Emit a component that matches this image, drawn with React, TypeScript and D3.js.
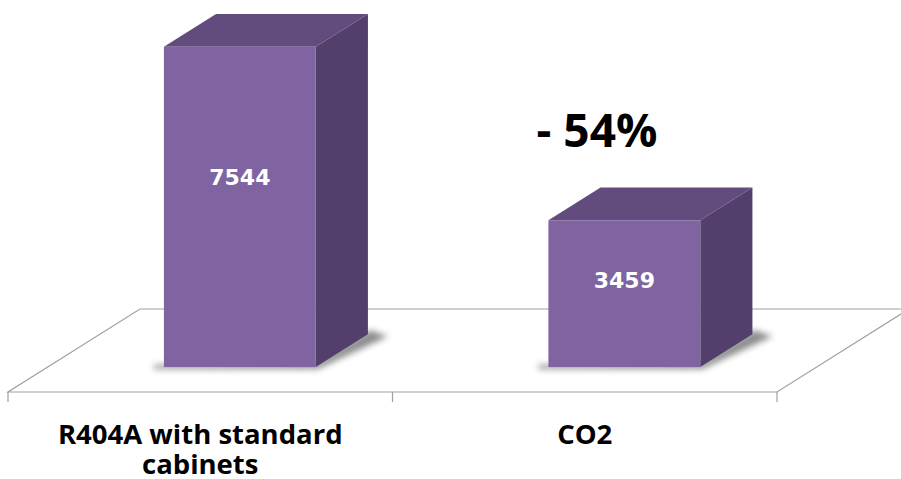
import React from "react";
import * as d3 from "d3";

const categories = ["R404A with standard cabinets", "CO2"];
const categoryLines = [["R404A with standard", "cabinets"], ["CO2"]];
const values = [7544, 3459];
const valueLabels = ["7544", "3459"];
const changeLabel = "- 54%";

const W = 901;
const H = 479;

// floor geometry (oblique projection)
const floorLeft = 8;
const floorRight = 777;
const floorFrontY = 392;
const depthDx = 132;
const depthDy = -83;
const barFrontFrac = 0.3;
const barBackFrac = 0.695;

const FRONT = "#8064A2";
const SIDE = "#523F6B";
const TOP = "#624B7D";
const GRID = "#A0A0A0";

export default function App() {
  const x = d3.scaleBand<string>().domain(categories).range([floorLeft, floorRight]).padding(0);
  const baseY = floorFrontY + depthDy * barFrontFrac;
  const y = d3.scaleLinear().domain([0, 8000]).range([baseY, baseY - 339.6]);
  const fdx = depthDx * barFrontFrac;
  const bdx = depthDx * (barBackFrac - barFrontFrac);
  const bdy = depthDy * (barBackFrac - barFrontFrac);
  const barW = x.bandwidth() * 0.395;

  const pts = (arr: number[][]) => arr.map((p) => p.join(",")).join(" ");

  return (
    <svg
      width={W}
      height={H}
      style={{ position: "fixed", left: 0, top: 0, background: "#fff" }}
    >
      <defs>
        <filter id="shadow" x="-20%" y="-50%" width="140%" height="200%">
          <feGaussianBlur stdDeviation="3" />
        </filter>
      </defs>

      {/* floor */}
      <g stroke={GRID} strokeWidth={1.2} fill="none">
        <polygon
          points={pts([
            [floorLeft, floorFrontY],
            [floorRight, floorFrontY],
            [floorRight + depthDx, floorFrontY + depthDy],
            [floorLeft + depthDx, floorFrontY + depthDy],
          ])}
        />
        {[floorLeft, x(categories[1])!, floorRight].map((tx, i) => (
          <line key={i} x1={tx} x2={tx} y1={floorFrontY} y2={floorFrontY + 10} />
        ))}
      </g>

      {/* bars */}
      {categories.map((c, i) => {
        const cx = x(c)! + x.bandwidth() / 2 + fdx;
        const x0 = cx - barW / 2;
        const x1 = cx + barW / 2;
        const yt = y(values[i]);
        const yb = y(0);
        return (
          <g key={c}>
            <polygon
              points={pts([
                [x0 - 10, yb + 2],
                [x1 + 2, yb + 2],
                [x1 + bdx + 20, yb + bdy + 2],
                [x1 + bdx + 2, yb + bdy - 4],
                [x1, yb - 4],
                [x0 - 10, yb - 2],
              ])}
              fill="#6e6e6e"
              opacity={0.8}
              filter="url(#shadow)"
            />
            <polygon
              points={pts([
                [x1, yt],
                [x1 + bdx, yt + bdy],
                [x1 + bdx, yb + bdy],
                [x1, yb],
              ])}
              fill={SIDE}
            />
            <polygon
              points={pts([
                [x0, yt],
                [x1, yt],
                [x1 + bdx, yt + bdy],
                [x0 + bdx, yt + bdy],
              ])}
              fill={TOP}
            />
            <rect x={x0} y={yt} width={barW} height={yb - yt} fill={FRONT} />
            <text
              x={cx}
              y={y(values[i] * 0.595) + 8}
              textAnchor="middle"
              fill="#fff"
              fontFamily="DejaVu Sans"
              fontWeight="bold"
              fontSize={22}
            >
              {valueLabels[i]}
            </text>
          </g>
        );
      })}

      {/* category labels */}
      {categories.map((c, i) =>
        categoryLines[i].map((ln, j) => (
          <text
            key={c + j}
            x={x(c)! + x.bandwidth() / 2}
            y={444 + j * 30}
            textAnchor="middle"
            fontFamily="Open Sans"
            fontWeight="bold"
            fontSize={27.5}
            fill="#000"
          >
            {ln}
          </text>
        ))
      )}

      <text
        x={597}
        y={147}
        textAnchor="middle"
        fontFamily="Open Sans"
        fontWeight="bold"
        fontSize={46}
        fill="#000"
      >
        {changeLabel}
      </text>
    </svg>
  );
}
